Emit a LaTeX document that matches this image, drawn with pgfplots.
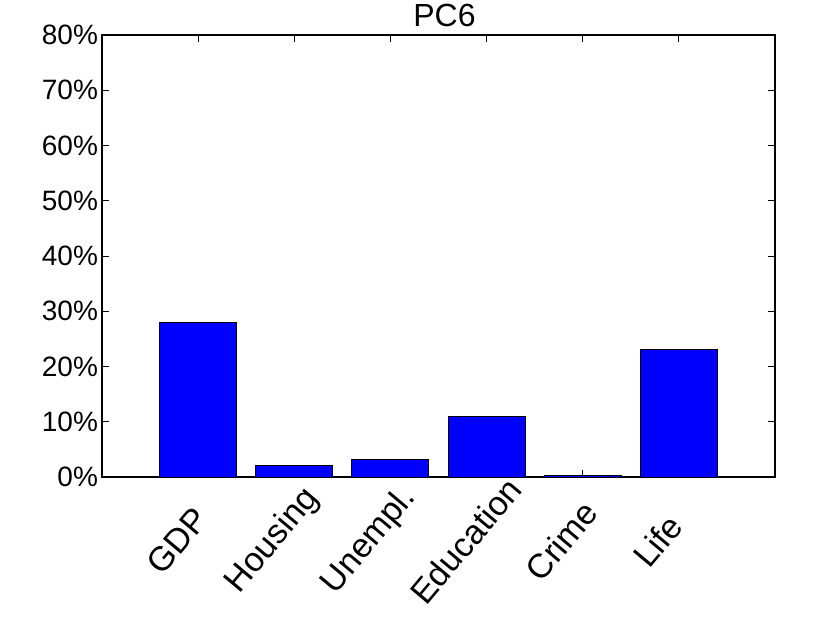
\documentclass[border=0pt]{standalone}
\usepackage{fontspec}
\setmainfont{Liberation Sans}
\usepackage{pgfplots}
\pgfplotsset{compat=1.18}

\begin{document}
\begin{tikzpicture}[x=1pt,y=1pt]
\useasboundingbox (0,0) rectangle (415,311.5);
\begin{axis}[
    at={(51pt,73pt)}, anchor=south west,
    scale only axis,
    width=336.5pt, height=221pt,
    xmin=0, xmax=7, ymin=0, ymax=80,
    xtick={1,2,3,4,5,6},
    xticklabels={GDP,Housing,Unempl.,Education,Crime,Life},
    ytick={0,10,20,30,40,50,60,70,80},
    yticklabel={\pgfmathprintnumber{\tick}\%},
    /pgf/number format/assume math mode=true,
    tick align=inside,
    major tick length=3.5pt,
    tick style={black, line width=0.5pt},
    axis line style={black, line width=0.6pt},
    y tick label style={font=\fontsize{14}{16}\selectfont, xshift=1.5pt},
    x tick label style={font=\fontsize{17}{19}\selectfont, rotate=50, anchor=center, xshift=-31.3pt, yshift=-12.5pt},
    title={PC6},
    title style={font=\fontsize{16}{18}\selectfont, at={(0.5,1)}, anchor=base, inner sep=0pt, yshift=-1.5pt, xshift=3pt},
]
\addplot[ybar, bar width=0.8, fill=blue, draw=black, line width=0.5pt]
  coordinates {(1,28.0) (2,2.0) (3,3.1) (4,10.9) (5,0.2) (6,23.1)};
\end{axis}
\end{tikzpicture}
\end{document}
